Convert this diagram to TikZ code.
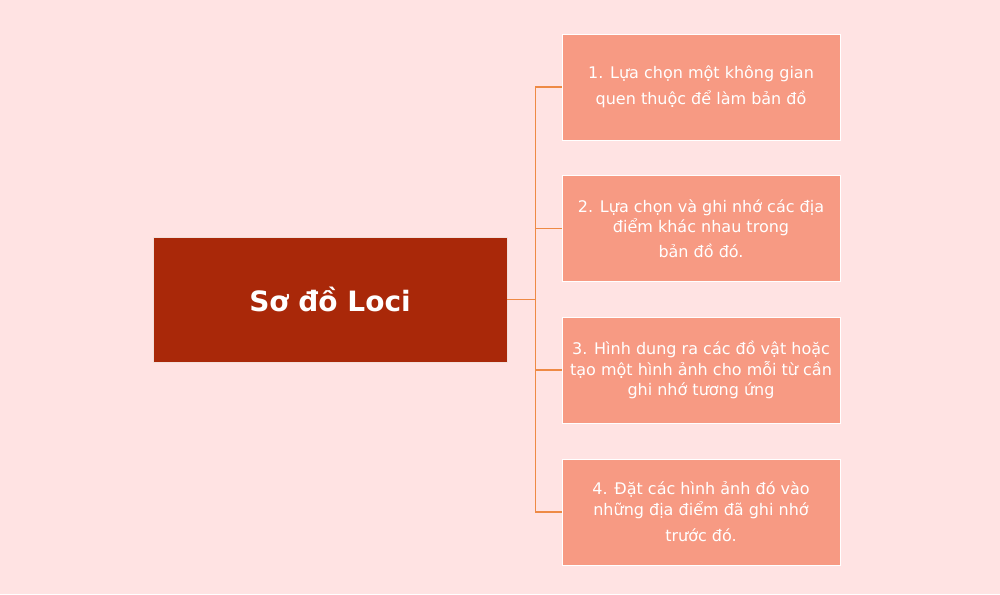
\documentclass[tikz,border=0pt]{standalone}
\usepackage{fontspec}
\setmainfont{DejaVu Sans}
\usetikzlibrary{positioning}
\definecolor{bgpink}{HTML}{FFE3E3}
\definecolor{lociRed}{HTML}{A92809}
\definecolor{stepSalmon}{HTML}{F79A83}
\definecolor{linkOrange}{HTML}{EE8A45}
\tikzset{
  mainbox/.style={draw=white!85!lociRed, line width=0.6pt, fill=lociRed, text=white,
    minimum width=354pt, minimum height=125pt, inner sep=0pt,
    font=\fontsize{28}{32}\selectfont\bfseries},
  stepbox/.style={draw=white, line width=0.8pt, fill=stepSalmon, text=white,
    minimum width=278pt, minimum height=106pt, inner sep=0pt, align=center,
    font=\fontsize{16}{20.5}\selectfont},
  link/.style={draw=linkOrange, line width=1.3pt}
}
\begin{document}
\begin{tikzpicture}[x=1pt,y=-1pt]
    % background and frame
    \fill[bgpink] (0,0) rectangle (1000,594);
    \useasboundingbox (0,0) rectangle (1000,594);

    % central topic
    \node[mainbox] (loci) at (330,299.5) {Sơ đồ Loci};

    % the four steps
    \node[stepbox] (s1) at (701,87) {1. Lựa chọn một không gian\\[6pt]quen thuộc để làm bản đồ};
    \node[stepbox] (s2) at (701,228.5) {2. Lựa chọn và ghi nhớ các địa\\điểm khác nhau trong\\[4pt]bản đồ đó.};
    \node[stepbox] (s3) at (701,370) {3. Hình dung ra các đồ vật hoặc\\tạo một hình ảnh cho mỗi từ cần\\ghi nhớ tương ứng};
    \node[stepbox] (s4) at (701,512) {4. Đặt các hình ảnh đó vào\\những địa điểm đã ghi nhớ\\[6pt]trước đó.};

    % connectors
    \draw[link] (loci.east) -- ++(28,0) coordinate (fork);
    \draw[link] (fork |- s1.west) -- (fork |- s4.west);
    \draw[link] (fork |- s1.west) -- (s1.west);
    \draw[link] (fork |- s2.west) -- (s2.west);
    \draw[link] (fork |- s3.west) -- (s3.west);
    \draw[link] (fork |- s4.west) -- (s4.west);
\end{tikzpicture}
\end{document}
